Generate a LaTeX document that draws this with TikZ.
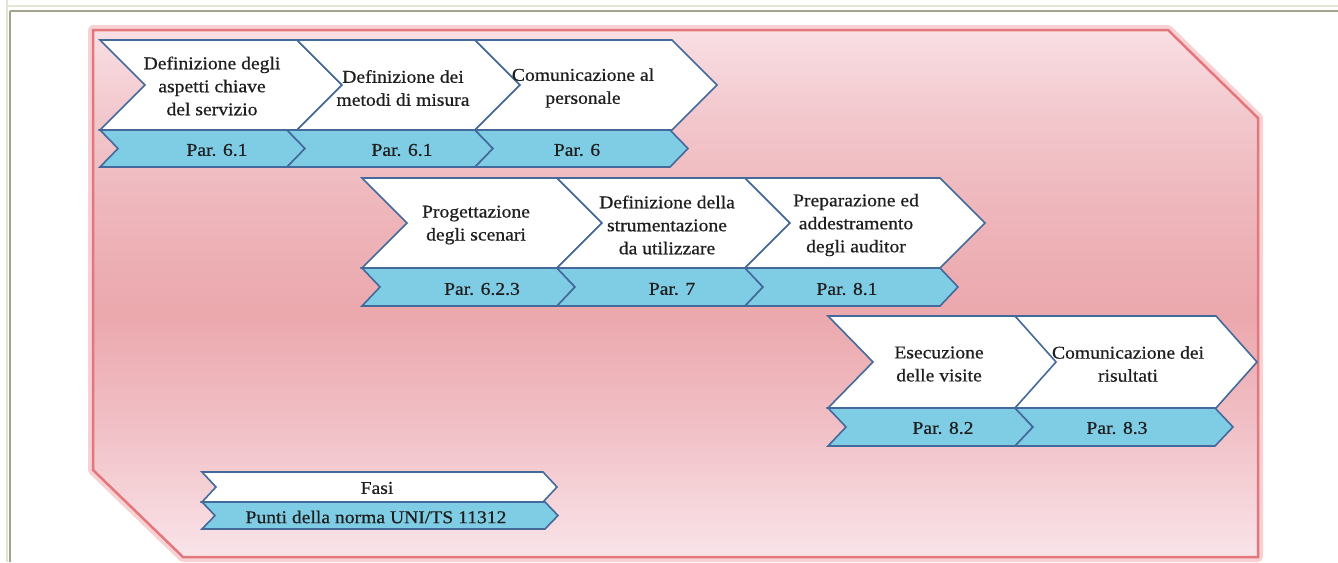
\documentclass[tikz,border=0pt]{standalone}
\usepackage{fontspec}
\setmainfont{Liberation Serif}[FakeStretch=1.09, FakeBold=0.6]
\definecolor{chevblue}{HTML}{44699B}
\definecolor{parblue}{HTML}{7FCCE5}
\definecolor{txtcol}{HTML}{1E1E1E}
\definecolor{pinkLine}{HTML}{E3777C}
\definecolor{pinkGlow}{HTML}{F3B3B6}
\definecolor{frameLight}{HTML}{E4E4D4}
\definecolor{frameDark}{HTML}{A4A48C}
\pgfdeclareverticalshading{pinkpanel}{100bp}{%
  color(0bp)=(rgb,255:red,249;green,228;blue,233);
  color(25bp)=(rgb,255:red,249;green,228;blue,233);
  color(37bp)=(rgb,255:red,241;green,193;blue,199);
  color(48bp)=(rgb,255:red,235;green,168;blue,173);
  color(58bp)=(rgb,255:red,238;green,182;blue,187);
  color(67bp)=(rgb,255:red,242;green,200;blue,205);
  color(75bp)=(rgb,255:red,249;green,223;blue,228);
  color(100bp)=(rgb,255:red,249;green,223;blue,228)}
\newcommand\mychev[6]{%
  \path[#6] (#1,#3) -- (#2,#3) -- ({#2+#5},{(#3+#4)/2}) -- (#2,#4) -- (#1,#4) -- ({#1+#5},{(#3+#4)/2}) -- cycle;}
\tikzset{
  phase/.style={fill=white, draw=chevblue, line width=1.6pt, line join=miter},
  para/.style={fill=parblue, draw=chevblue, line width=1.6pt, line join=miter},
  lbl/.style={font=\fontsize{18}{23}\selectfont, text=txtcol, align=center, inner sep=0pt},
}
\begin{document}
\begin{tikzpicture}[x=1pt,y=-1pt]
\useasboundingbox[fill=white] (0,0) rectangle (1338,562);
% page frame
\draw[frameLight, line width=1.5pt] (7,0) -- (7,562);
\draw[frameLight, line width=1.5pt] (7,6) -- (1338,6);
\draw[frameDark, line width=2pt] (9.5,10.5) -- (1338,10.5);
\draw[frameDark, line width=2pt] (9.5,10.5) -- (9.5,562);
% pink panel
\draw[pinkGlow, line width=10pt, line join=round, opacity=0.6]
  (93,30) -- (1168,30) -- (1258,118) -- (1258,557) -- (183,557) -- (93,470) -- cycle;
\shade[shading=pinkpanel]
  (93,30) -- (1168,30) -- (1258,118) -- (1258,557) -- (183,557) -- (93,470) -- cycle;
\draw[pinkLine, line width=2.5pt, line join=miter]
  (93,30) -- (1168,30) -- (1258,118) -- (1258,557) -- (183,557) -- (93,470) -- cycle;
% row 1
\mychev{100}{287}{130}{167}{18}{para}
\mychev{287}{475}{130}{167}{18}{para}
\mychev{475}{670}{130}{167}{18}{para}
\mychev{100}{297}{40}{130}{45}{phase}
\mychev{297}{475}{40}{130}{45}{phase}
\mychev{475}{672}{40}{130}{45}{phase}
% row 2
\mychev{362}{557}{268}{306}{18}{para}
\mychev{557}{745}{268}{306}{18}{para}
\mychev{745}{940}{268}{306}{18}{para}
\mychev{362}{557}{178}{268}{45}{phase}
\mychev{557}{745}{178}{268}{45}{phase}
\mychev{745}{940}{178}{268}{45}{phase}
% row 3
\mychev{828}{1015}{408}{446}{18}{para}
\mychev{1015}{1215}{408}{446}{18}{para}
\mychev{828}{1015}{316}{408}{45}{phase}
\mychev{1015}{1216}{316}{408}{41}{phase}
% legend
\mychev{202}{545}{502}{529}{13}{para}
\mychev{202}{543}{472}{502}{14}{phase}
% texts
\node[lbl] (t11) at (212,86) {Definizione degli\\aspetti chiave\\del servizio};
\node[lbl] (t12) at (403,88) {Definizione dei\\metodi di misura};
\node[lbl] (t13) at (583,88) {Comunicazione al\\personale};
\node[lbl] (t21) at (476,225) {Progettazione\\degli scenari};
\node[lbl] (t22) at (667,225) {Definizione della\\strumentazione\\da utilizzare};
\node[lbl] (t23) at (856,225) {Preparazione ed\\addestramento\\degli auditor};
\node[lbl] (t31) at (939,364) {Esecuzione\\delle visite};
\node[lbl] (t32) at (1128,364) {Comunicazione dei\\risultati};
\node[lbl] (p11) at (217,150) {Par. 6.1};
\node[lbl] (p12) at (402,150) {Par. 6.1};
\node[lbl] (p13) at (577,150) {Par. 6};
\node[lbl] (p21) at (482,289) {Par. 6.2.3};
\node[lbl] (p22) at (672,289) {Par. 7};
\node[lbl] (p23) at (847,289) {Par. 8.1};
\node[lbl] (p31) at (943,428) {Par. 8.2};
\node[lbl] (p32) at (1117,428) {Par. 8.3};
\node[lbl] (fasi) at (377,488) {Fasi};
\node[lbl] (punti) at (376,517) {Punti della norma UNI/TS 11312};
\end{tikzpicture}
\end{document}
